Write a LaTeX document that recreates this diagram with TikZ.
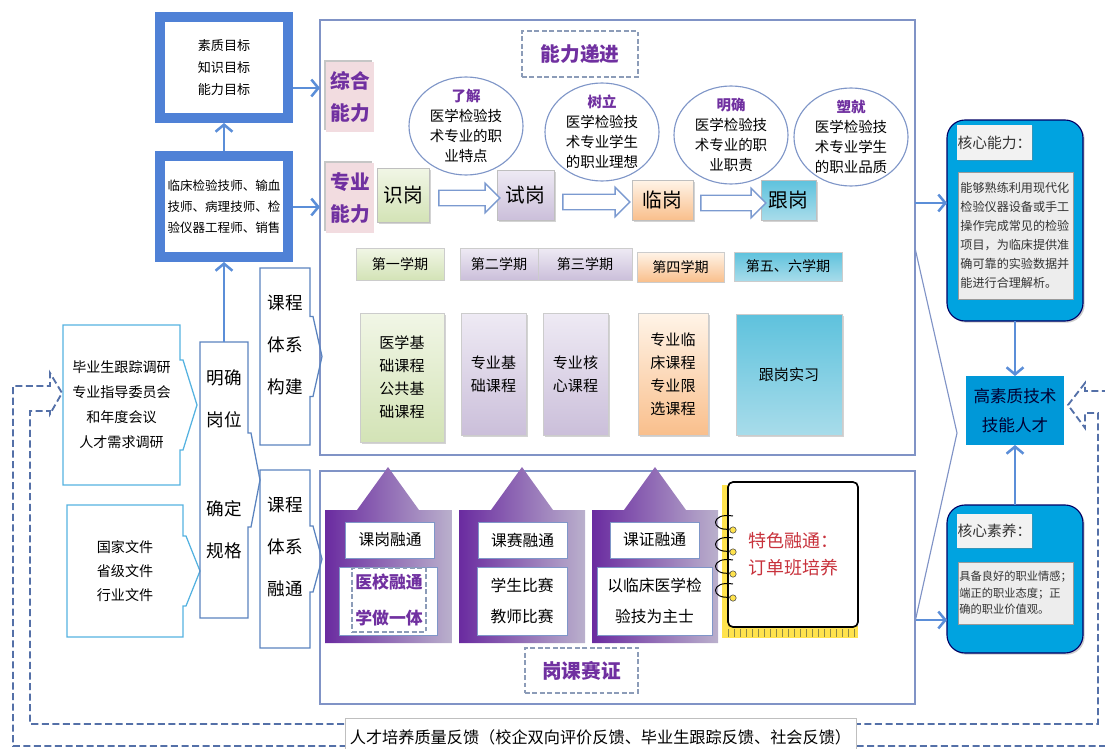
\documentclass[tikz,border=0pt]{standalone}
\usepackage{fontspec}
\setmainfont{Noto Sans CJK SC}
\usepackage{xcolor}
\usepackage{tikz}
\usetikzlibrary{arrows.meta}
\usetikzlibrary{positioning}
\usetikzlibrary{calc}
\usetikzlibrary{shapes.geometric, shapes.arrows, shadows}

\definecolor{frameblue}{HTML}{4F81D6}
\definecolor{arrblue}{HTML}{5B8ED8}
\definecolor{panelline}{HTML}{8093C6}
\definecolor{skyline}{HTML}{55B2E0}
\definecolor{steel}{HTML}{5A83BF}
\definecolor{plum}{HTML}{7030A0}
\definecolor{dashblue}{HTML}{5470A8}
\definecolor{dashgray}{HTML}{8C9CB8}
\definecolor{hollowline}{HTML}{7B9AD0}
\definecolor{bubbleline}{HTML}{7F96C8}
\definecolor{coreblue}{HTML}{00A3E0}
\definecolor{talentblue}{HTML}{0098D8}
\definecolor{greenA}{HTML}{F1F6E6}
\definecolor{greenB}{HTML}{D3E3B6}
\definecolor{lilacA}{HTML}{EEEAF4}
\definecolor{lilacB}{HTML}{CBBFDA}
\definecolor{orangeA}{HTML}{FFF4E8}
\definecolor{orangeB}{HTML}{F9BF8C}
\definecolor{cyanA}{HTML}{5EC2DD}
\definecolor{cyanB}{HTML}{A8DCEA}
\definecolor{pinkbox}{HTML}{F2DCE0}
\definecolor{notered}{HTML}{C8323C}
\definecolor{noteyellow}{HTML}{FFE34D}
\definecolor{houseL}{HTML}{6A2BA0}
\definecolor{houseR}{HTML}{BAB0CC}

\newcommand{\fsz}[2]{\fontsize{#1}{#2}\selectfont}
\newcommand{\callout}[4]{\draw[#4] (#1.north west) -- (#1.north east) -- ($(#1.east)+(0,-#2)$) -- ++(3,0) -- ($(#1.east)+(#3,0)$) -- ($(#1.east)+(3,#2)$) -- ($(#1.east)+(0,#2)$) -- (#1.south east) -- (#1.south west) -- cycle;}

\tikzset{
  sz/.style 2 args={minimum width=#1*0.025cm, minimum height=#2*0.025cm},
  barrow/.style={draw=arrblue, line width=1.8pt, -{Straight Barb[length=5pt,width=12pt]}},
  frame/.style={draw=frameblue, line width=0.25cm, outer sep=0.125cm, fill=white, font=\fsz{9.3}{15.6}},
  panel/.style={draw=panelline, line width=0.8pt},
  callbox/.style={draw=steel, line width=0.9pt},
  tall/.style={font=\fsz{12.5}{30}},
  titlebox/.style={draw=dashgray, line width=1.4pt, dash pattern=on 3.5pt off 1.8pt, fill=white, text=plum, font=\fsz{14}{16}\bfseries},
  ability/.style={sz={48}{70}, fill=pinkbox, text=plum, font=\fsz{14}{22.7}\bfseries, drop shadow={shadow xshift=-1.2pt, shadow yshift=1.2pt, opacity=0.45}},
  stage/.style={draw=black!25, font=\fsz{14}{16}, drop shadow={shadow xshift=1.2pt, shadow yshift=-1.2pt, opacity=0.35}},
  hollow/.style={single arrow, draw=hollowline, fill=white, line width=1pt, inner xsep=0pt, inner ysep=0.175cm, single arrow head extend=0.175cm, single arrow head indent=0pt},
  bubble/.style={ellipse, draw=bubbleline, fill=white, line width=0.8pt, sz={114}{98}, inner ysep=-0.15cm, font=\fsz{10.3}{14.2}},
  term/.style={draw=black!20, font=\fsz{10}{12}, drop shadow={shadow xshift=1pt, shadow yshift=-1pt, opacity=0.35}},
  course/.style={draw=black!20, font=\fsz{10.7}{16.4}, drop shadow={shadow xshift=1.2pt, shadow yshift=-1.2pt, opacity=0.35}},
  tag/.style={draw=bubbleline, fill=white, line width=0.6pt, font=\fsz{11.2}{13}},
  skill/.style={fill=coreblue, draw=black!60!blue, rounded corners=0.45cm, line width=0.8pt, drop shadow={shadow xshift=1.2pt, shadow yshift=-1.2pt, opacity=0.4}},
  headbox/.style={fill=black!5, text=black!80, font=\fsz{10.5}{12}, drop shadow={shadow xshift=1pt, shadow yshift=-1pt, opacity=0.4}},
  memo/.style={fill=black!7, draw=black!40, line width=0.6pt, text=black!80, align=left, drop shadow={shadow xshift=1pt, shadow yshift=-1pt, opacity=0.4}},
  fback/.style={draw=dashblue, line width=1.3pt, dash pattern=on 5pt off 2.5pt}
}

\begin{document}
\begin{tikzpicture}[x=0.025cm, y=-0.025cm, every node/.style={inner sep=0pt, outer sep=0pt, align=center}]
\useasboundingbox (0,0) rectangle (1105,749);
\clip (0,0) rectangle (1105,749);

\node[panel, sz={595}{435}] (panelA) at (617.5,237.5) {};
\node[panel, sz={595}{233}] (panelB) at (617.5,587.5) {};

\node[frame, sz={128}{101}] (goal) at (224,67.5) {素质目标\\知识目标\\能力目标};
\node[frame, sz={128}{101}, font=\fsz{8.9}{15}] (job) at (224,206.5) {临床检验技师、输血\\技师、病理技师、检\\验仪器工程师、销售};

\node[sz={117}{160}, font=\fsz{10}{17.8}] (survey) at (121.5,405) {毕业生跟踪调研\\专业指导委员会\\和年度会议\\人才需求调研};
\node[sz={116}{132}, font=\fsz{10}{17}] (docs) at (125,571) {国家文件\\省级文件\\行业文件};
\node[sz={48}{276}] (pos) at (224,480) {};
\node[sz={50}{177}] (build) at (285,356.5) {};
\node[sz={50}{178}] (merge) at (285,559) {};
\callout{survey}{45}{17}{callbox, draw=skyline}
\callout{docs}{35}{17}{callbox, draw=skyline}
\callout{pos}{47}{12}{callbox}
\callout{build}{40}{12}{callbox}
\callout{merge}{33}{12}{callbox}
\node[tall] (posA) at (224,399) {明确\\岗位};
\node[tall] (posB) at (224,530) {确定\\规格};
\node[tall] (buildt) at (285,345) {课程\\体系\\构建};
\node[tall] (merget) at (285,547) {课程\\体系\\融通};

\draw[barrow] (job.north) -- (goal.south);
\draw[barrow] (pos.north) -- (job.south);
\draw[barrow] (goal.east |- 0,88) -- (panelA.west |- 0,88);
\draw[barrow] (job.east |- 0,207) -- (panelA.west |- 0,207);

\node[titlebox, sz={116}{46}] (ladder) at (580,54) {能力递进};
\node[ability] (comp) at (350,97) {综合\\能力};
\node[ability] (spec) at (350,198) {专业\\能力};

\foreach \nm/\x/\y/\w/\h/\ca/\cb/\txt in {s1/403/195/52/54/greenA/greenB/识岗, s2/525.5/195/57/50/lilacA/lilacB/试岗, s3/662.5/200/61/40/orangeA/orangeB/临岗, s4/788.5/200/55/40/cyanA/cyanB/跟岗}
{
  \node[stage, sz={\w}{\h}, top color=\ca, bottom color=\cb] (\nm) at (\x,\y) {\txt};
}
\foreach \x/\y/\len [count=\i] in {465.5/198/61, 592.5/202/67, 729.5/203/65}
{
  \node[hollow, minimum height=\len*0.025cm] (a\i) at (\x,\y) {};
}
\foreach \x/\y/\k/\la/\lb/\lc [count=\i] in {466/126/了解/医学检验技/术专业的职/业特点, 602/132/树立/医学检验技/术专业学生/的职业理想, 731/135/明确/医学检验技/术专业的职/业职责, 851/137/塑就/医学检验技/术专业学生/的职业品质}
{
  \node[bubble] (e\i) at (\x,\y) {\textcolor{plum}{\bfseries\k}\\\la\\\lb\\\lc};
}

\foreach \nm/\x/\y/\w/\h/\ca/\cb/\txt in {sem1/400/264/88/32/greenA/greenB/第一学期, sem2/499/264/78/32/lilacA/lilacB/第二学期, sem3/585/264/94/32/lilacA/lilacB/第三学期, sem4/680.5/267/87/30/orangeA/orangeB/第四学期, sem5/788/266.5/108/29/cyanA/cyanB/第五、六学期}
{
  \node[term, sz={\w}{\h}, top color=\ca, bottom color=\cb] (\nm) at (\x,\y) {\txt};
}
\foreach \nm/\x/\y/\w/\h/\ca/\cb/\txt in {c1/402/377.5/84/129/greenA/greenB/医学基\\础课程\\公共基\\础课程, c2/493.5/374/65/122/lilacA/lilacB/专业基\\础课程, c3/575.5/374/65/122/lilacA/lilacB/专业核\\心课程, c4/673/374/70/122/orangeA/orangeB/专业临\\床课程\\专业限\\选课程, c5/789/374.5/106/121/cyanA/cyanB/跟岗实习}
{
  \node[course, sz={\w}{\h}, top color=\ca, bottom color=\cb] (\nm) at (\x,\y) {\txt};
}

\foreach \xa/\xb/\pk in {325/452/388, 459/585/522, 592/718/655}
{
  \shade[left color=houseL, right color=houseR] (\xa,643) -- (\xa,510) -- (\pk-31,510) -- (\pk,467) -- (\pk+31,510) -- (\xb,510) -- (\xb,643) -- cycle;
}
\foreach \nm/\x/\txt in {t1/390/课岗融通, t2/522.5/课赛融通, t3/654.5/课证融通}
{
  \node[tag, sz={89}{36}] (\nm) at (\x,540) {\txt};
}
\node[tag, sz={98}{68}] (b1) at (388,601) {};
\node[titlebox, sz={74}{64}, font=\fsz{12}{25}\bfseries, line width=1pt] (b1d) at (389,600) {医校融通\\学做一体};
\node[tag, sz={90}{68}, font=\fsz{11.2}{22}] (b2) at (522,601) {学生比赛\\教师比赛};
\node[tag, sz={115}{68}, font=\fsz{11.2}{22}] (b3) at (654.5,601) {以临床医学检\\验技为主士};

\fill[noteyellow] (722,485) rectangle (731,637);
\fill[noteyellow] (722,626) rectangle (858,638);
\foreach \x in {728,734,...,854}
{
  \draw[yellow!50!black, line width=0.5pt] (\x,629) -- (\x,637);
}
\node[draw=black, line width=1.2pt, rounded corners=0.125cm, fill=white, sz={130}{145}, text=notered, font=\fsz{12.8}{19}] (note) at (793,554.5) {特色融通：\\订单班培养};
\foreach \y in {516,538,560,584}
{
  \draw[line width=0.7pt] (733,\y) .. controls (710,\y-4) and (710,\y+16) .. (731,\y+13);
  \filldraw[fill=noteyellow, draw=black!70, line width=0.4pt] (733,\y+14) circle (0.08cm);
}
\node[titlebox, sz={113}{45}] (gkst) at (581.5,670.5) {岗课赛证};

\node[skill, sz={136}{201}] (core) at (1015,220.5) {};
\node[headbox, sz={75}{35}] (coreh) at (994.5,142.5) {核心能力：};
\node[memo, sz={115}{127}, text width=2.75cm, font=\fsz{8.6}{13.5}] (coret) at (1015.5,235.5) {能够熟练利用现代化\\检验仪器设备或手工\\操作完成常见的检验\\项目，为临床提供准\\确可靠的实验数据并\\能进行合理解析。};
\node[fill=talentblue, sz={98}{69}, font=\fsz{11.8}{20.6}, text=blue!20!black] (talent) at (1015,410.5) {高素质技术\\技能人才};
\node[skill, sz={136}{148}] (qual) at (1015,579) {};
\node[headbox, sz={75}{34}] (qualh) at (994.5,531) {核心素养：};
\node[memo, sz={115}{62}, text width=2.8cm, font=\fsz{8}{11.7}] (qualt) at (1015.5,593) {具备良好的职业情感；\\端正的职业态度；正\\确的职业价值观。};

\draw[barrow] (panelA.east |- 0,203) -- (core.west |- 0,203);
\draw[barrow] (panelB.east |- 0,620) -- (qual.west |- 0,620);
\draw[barrow] (core.south) -- (talent.north);
\draw[barrow] (qual.north) -- (talent.south);
\draw[panel] (panelA.east |- 0,248) -- (957,433) -- (panelB.east |- 0,622);

\draw[fback] (1130,391) -- (1085,391) -- (1085,383) -- (1068,405) -- (1085,428) -- (1085,413) -- (1098,413) -- (1098,724) -- (30,724) -- (30,411) -- (50,411) -- (50,414) -- (62,393) -- (50,373) -- (50,386) -- (13,386) -- (13,746) -- (1130,746);
\node[fill=white, draw=black!25, line width=0.5pt, sz={511}{38}, font=\fsz{11.5}{13}] (fb) at (600.5,737) {人才培养质量反馈（校企双向评价反馈、毕业生跟踪反馈、社会反馈）};
\end{tikzpicture}
\end{document}
